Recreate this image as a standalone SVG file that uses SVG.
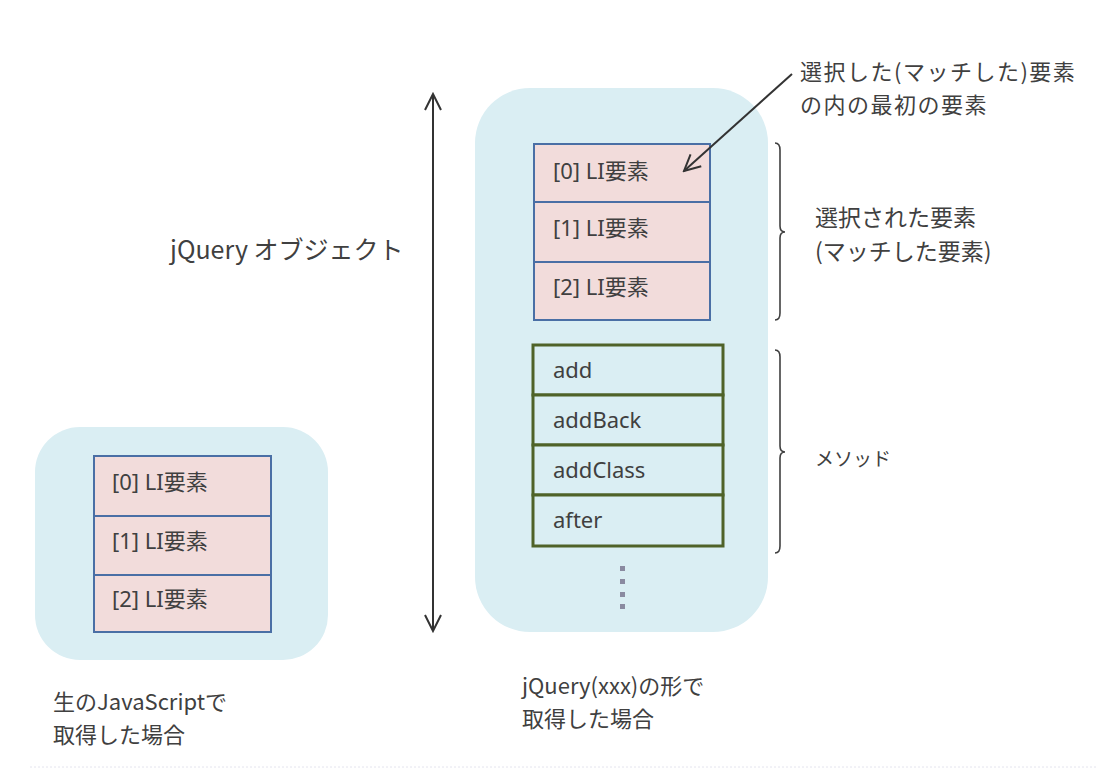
<svg xmlns="http://www.w3.org/2000/svg" width="1102" height="770" viewBox="0 0 1102 770">
<defs>
<style>
.bg{fill:#daeef3;stroke:none}
.li{fill:#f2dcdb;stroke:#4a6fa5;stroke-width:2}
.m{fill:#daeef3;stroke:#4f6228;stroke-width:3}
.t{font-family:"Noto Sans","Noto Sans CJK JP",sans-serif;font-size:22px;fill:#404040}
.j{font-family:"Noto Sans CJK JP",sans-serif;fill:#404040}
.ln{stroke:#333;stroke-width:2;fill:none}
.br{stroke:#404040;stroke-width:1.6;fill:none}
</style>
<marker id="open" viewBox="0 0 20 20" refX="18" refY="10" markerWidth="20" markerHeight="20" markerUnits="userSpaceOnUse" orient="auto-start-reverse">
<path d="M2,2 L18,10 L2,18" fill="none" stroke="#333" stroke-width="2"/>
</marker>
</defs>
<rect width="1102" height="770" fill="#fff"/>

<g id="jquery-object">
<rect class="bg" x="475" y="88" width="293" height="544" rx="55"/>
</g>
<g id="raw-js">
<rect class="bg" x="35" y="427" width="293" height="233" rx="45"/>
</g>

<g id="selected-elements">
<rect class="li" x="534" y="144" width="176" height="58"/>
<rect class="li" x="534" y="202" width="176" height="60"/>
<rect class="li" x="534" y="262" width="176" height="58"/>
<text class="t" x="553" y="179">[0] LI要素</text>
<text class="t" x="553" y="236">[1] LI要素</text>
<text class="t" x="553" y="295">[2] LI要素</text>
</g>

<g id="methods">
<rect class="m" x="533" y="345" width="190" height="50"/>
<rect class="m" x="533" y="395" width="190" height="50"/>
<rect class="m" x="533" y="445" width="190" height="50"/>
<rect class="m" x="533" y="495" width="190" height="51"/>
<text class="t" x="553" y="378">add</text>
<text class="t" x="553" y="428">addBack</text>
<text class="t" x="553" y="478">addClass</text>
<text class="t" x="553" y="528">after</text>
<g fill="#8a8aa0">
<rect x="620" y="566" width="5" height="5"/>
<rect x="620" y="579" width="5" height="5"/>
<rect x="620" y="592" width="5" height="5"/>
<rect x="620" y="604" width="5" height="5"/>
</g>
</g>

<g id="raw-elements">
<rect class="li" x="94" y="456" width="177" height="60"/>
<rect class="li" x="94" y="516" width="177" height="59"/>
<rect class="li" x="94" y="575" width="177" height="57"/>
<text class="t" x="112" y="490">[0] LI要素</text>
<text class="t" x="112" y="549">[1] LI要素</text>
<text class="t" x="112" y="607">[2] LI要素</text>
</g>

<g id="connectors">
<line class="ln" x1="433" y1="94" x2="433" y2="631" marker-start="url(#open)" marker-end="url(#open)"/>
<line class="ln" x1="792" y1="74" x2="684" y2="171" marker-end="url(#open)"/>
<path class="br" d="M775,143 Q780,143 780,150 L780,226 Q780,232 785,232 Q780,232 780,238 L780,313 Q780,320 775,320"/>
<path class="br" d="M775,350 Q780,350 780,357 L780,446 Q780,452 785,452 Q780,452 780,458 L780,546 Q780,553 775,553"/>
</g>

<g id="labels">
<text class="j" x="170" y="259" font-size="25">jQuery オブジェクト</text>
<text class="j" x="800" y="80" font-size="22" letter-spacing="1.5">選択した(マッチした)要素</text>
<text class="j" x="800" y="113" font-size="22" letter-spacing="1.5">の内の最初の要素</text>
<text class="j" x="815" y="226" font-size="23">選択された要素</text>
<text class="j" x="815" y="260" font-size="23">(マッチした要素)</text>
<text class="j" x="815" y="466" font-size="19">メソッド</text>
<text class="j" x="53" y="710" font-size="22">生のJavaScriptで</text>
<text class="j" x="53" y="743" font-size="22">取得した場合</text>
<text class="j" x="522" y="694" font-size="22">jQuery(xxx)の形で</text>
<text class="j" x="522" y="727" font-size="22">取得した場合</text>
</g>

<line x1="30" y1="767" x2="1098" y2="767" stroke="#e4e4ee" stroke-width="1" stroke-dasharray="2,2"/>
</svg>
